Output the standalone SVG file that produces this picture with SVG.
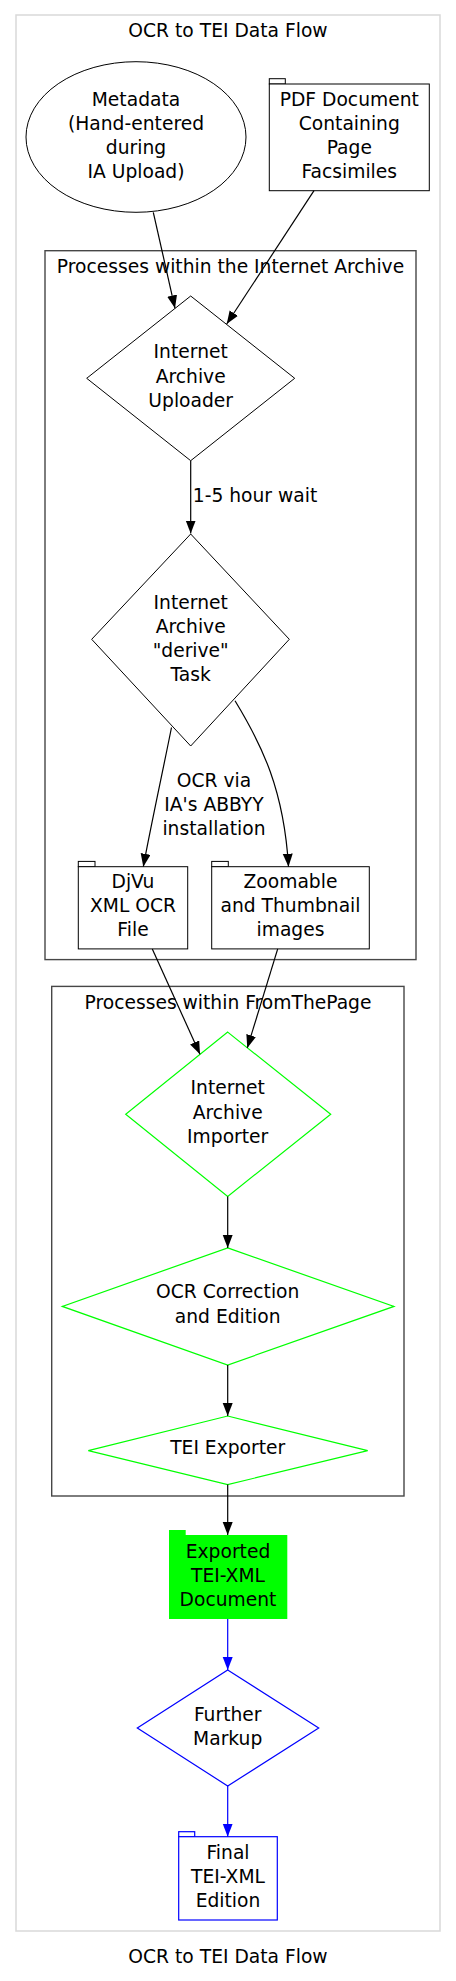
<svg xmlns="http://www.w3.org/2000/svg" width="456" height="1981" viewBox="0 0 456 1981">
<style>
text{font-family:"DejaVu Sans","Liberation Sans",sans-serif;font-size:18.7px;fill:#000;text-anchor:middle}
.n{fill:#fff;stroke:#000;stroke-width:1}
.g{fill:#fff;stroke:#00ff00;stroke-width:1.2}
.b{fill:#fff;stroke:#0000ff;stroke-width:1.2}
.cl{fill:none;stroke:#474747;stroke-width:1.4}
.e{fill:none;stroke:#000;stroke-width:1.2}
.eb{fill:none;stroke:#0000ff;stroke-width:1.2}
</style>
<defs>
<marker id="ah" markerUnits="userSpaceOnUse" markerWidth="15" markerHeight="11" refX="13" refY="5" orient="auto"><path d="M0,0 L13,5 L0,10 z" fill="#000"/></marker>
<marker id="ahb" markerUnits="userSpaceOnUse" markerWidth="15" markerHeight="11" refX="13" refY="5" orient="auto"><path d="M0,0 L13,5 L0,10 z" fill="#0000ff"/></marker>
</defs>
<rect x="0" y="0" width="456" height="1981" fill="#fff"/>
<rect x="16" y="15" width="424" height="1916" fill="none" stroke="#d9d9d9" stroke-width="1.5"/>
<text x="228" y="37">OCR to TEI Data Flow</text>
<text x="228" y="1962.7">OCR to TEI Data Flow</text>

<g id="cluster_ia">
<rect class="cl" x="45" y="250.7" width="371" height="708.9"/>
<text x="230.5" y="273.3">Processes within the Internet Archive</text>
</g>
<g id="cluster_ftp">
<rect class="cl" x="51.7" y="986.4" width="352.3" height="509.6"/>
<text x="228" y="1008.6">Processes within FromThePage</text>
</g>

<g id="metadata">
<ellipse class="n" cx="136" cy="137" rx="110" ry="75.3"/>
<text x="136" y="106">Metadata</text>
<text x="136" y="130">(Hand-entered</text>
<text x="136" y="154">during</text>
<text x="136" y="178">IA Upload)</text>
</g>
<g id="pdf">
<rect class="n" x="269.3" y="78.7" width="16" height="5.3"/>
<rect class="n" x="269.3" y="84" width="160" height="106.7"/>
<text x="349.3" y="106">PDF Document</text>
<text x="349.3" y="130">Containing</text>
<text x="349.3" y="154">Page</text>
<text x="349.3" y="178">Facsimiles</text>
</g>
<g id="uploader">
<polygon class="n" points="190.7,296 294.7,378.3 190.7,460.7 86.7,378.3"/>
<text x="190.7" y="358.3">Internet</text>
<text x="190.7" y="382.5">Archive</text>
<text x="190.7" y="406.5">Uploader</text>
</g>
<g id="derive">
<polygon class="n" points="190.7,534 289.3,639.3 190.7,746 91.7,639.3"/>
<text x="190.7" y="609">Internet</text>
<text x="190.7" y="633">Archive</text>
<text x="190.7" y="657">"derive"</text>
<text x="190.7" y="681">Task</text>
</g>
<g id="djvu">
<rect class="n" x="78.3" y="861.4" width="16.7" height="5.3"/>
<rect class="n" x="78.3" y="866.7" width="109.4" height="82.2"/>
<text x="133" y="888.3">DjVu</text>
<text x="133" y="912.3">XML OCR</text>
<text x="133" y="936">File</text>
</g>
<g id="zoomable">
<rect class="n" x="211.7" y="861.4" width="16.6" height="5.3"/>
<rect class="n" x="211.7" y="866.7" width="157.6" height="82.2"/>
<text x="290.5" y="888.3">Zoomable</text>
<text x="290.5" y="912.3">and Thumbnail</text>
<text x="290.5" y="936">images</text>
</g>
<g id="importer">
<polygon class="g" points="227.7,1032.1 330.7,1114.3 227.7,1196.4 125.7,1114.3"/>
<text x="227.7" y="1094.3">Internet</text>
<text x="227.7" y="1118.6">Archive</text>
<text x="227.7" y="1142.9">Importer</text>
</g>
<g id="ocr">
<polygon class="g" points="227.7,1247.9 394,1306.4 227.7,1365 62.3,1306.4"/>
<text x="227.7" y="1298.2">OCR Correction</text>
<text x="227.7" y="1322.9">and Edition</text>
</g>
<g id="tei">
<polygon class="g" points="227.7,1416 367.7,1450.7 227.7,1484.6 88.3,1450.7"/>
<text x="227.7" y="1454.3">TEI Exporter</text>
</g>
<g id="exported">
<rect x="169" y="1530" width="16.7" height="6" fill="#00ff00"/>
<rect x="169" y="1535" width="118.3" height="84" fill="#00ff00"/>
<text x="228" y="1557.7">Exported</text>
<text x="228" y="1581.7">TEI-XML</text>
<text x="228" y="1605.7">Document</text>
</g>
<g id="further">
<polygon class="b" points="227.7,1670 318.7,1728 227.7,1786 137.3,1728"/>
<text x="227.7" y="1720.7">Further</text>
<text x="227.7" y="1744.5">Markup</text>
</g>
<g id="final">
<rect class="b" x="178.7" y="1831.7" width="16" height="5"/>
<rect class="b" x="178.7" y="1836.7" width="98.6" height="83.3"/>
<text x="228" y="1859.3">Final</text>
<text x="228" y="1883.3">TEI-XML</text>
<text x="228" y="1907.3">Edition</text>
</g>

<g id="edges">
<path class="e" d="M153.3,212.3 L175,308.3" marker-end="url(#ah)"/>
<path class="e" d="M314,190.7 L226.7,324" marker-end="url(#ah)"/>
<path class="e" d="M190.7,460.7 L190.7,533.5" marker-end="url(#ah)"/>
<text x="255" y="501.7">1-5 hour wait</text>
<path class="e" d="M171.5,727.5 C163,770 150,830 143.3,866.7" marker-end="url(#ah)"/>
<text x="214" y="787.3">OCR via</text>
<text x="214" y="811">IA's ABBYY</text>
<text x="214" y="835">installation</text>
<path class="e" d="M235,700.7 C262,745 284,790 288.5,866.7" marker-end="url(#ah)"/>
<path class="e" d="M152.3,948.9 L200,1054.3" marker-end="url(#ah)"/>
<path class="e" d="M277.7,948.9 L247.3,1047.9" marker-end="url(#ah)"/>
<path class="e" d="M227.7,1196.4 L227.7,1247.9" marker-end="url(#ah)"/>
<path class="e" d="M227.7,1365 L227.7,1416" marker-end="url(#ah)"/>
<path class="e" d="M227.7,1484.6 L227.7,1535" marker-end="url(#ah)"/>
<path class="eb" d="M227.7,1619 L227.7,1670" marker-end="url(#ahb)"/>
<path class="eb" d="M227.7,1786 L227.7,1836.7" marker-end="url(#ahb)"/>
</g>
</svg>
